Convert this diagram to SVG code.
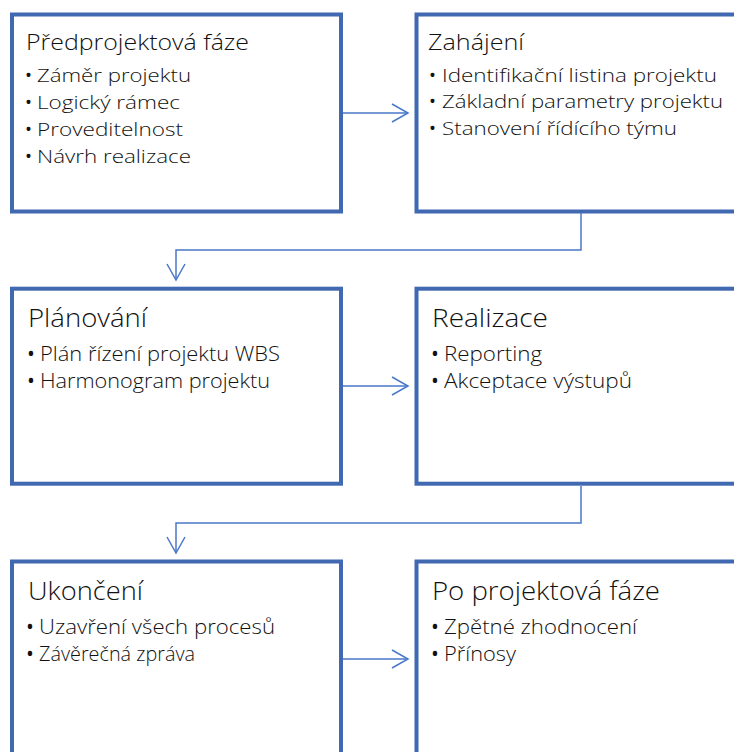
<svg xmlns="http://www.w3.org/2000/svg" width="734" height="752" viewBox="0 0 734 752">
  <style>
    .box { fill: #ffffff; stroke: #4169b1; stroke-width: 4; }
    .link { fill: none; stroke: #4a78c8; stroke-width: 1.5; }
    text { font-family: "Open Sans", "Noto Sans", sans-serif; font-weight: 300; fill: #111111; }
    .t1 { font-size: 22px; }
    .b1 { font-size: 18.5px; }
    .t2 { font-size: 26px; }
    .b2 { font-size: 21px; }
    .dot { font-weight: 400; }
  </style>
  <defs>
    <marker id="chevron" markerUnits="userSpaceOnUse" markerWidth="20" markerHeight="22" refX="17" refY="10" orient="auto">
      <path d="M1,1 L17,10 L1,19" fill="none" stroke="#4a78c8" stroke-width="1.5"/>
    </marker>
  </defs>

  <rect width="734" height="752" fill="#ffffff"/>

  <!-- connectors between phases -->
  <g id="connectors">
    <path class="link" d="M343,113 H408" marker-end="url(#chevron)"/>
    <path class="link" d="M581,213 V250 H176 V280" marker-end="url(#chevron)"/>
    <path class="link" d="M343,386 H408" marker-end="url(#chevron)"/>
    <path class="link" d="M581,486 V523 H176 V553" marker-end="url(#chevron)"/>
    <path class="link" d="M343,659 H408" marker-end="url(#chevron)"/>
  </g>

  <g id="predprojektova">
    <rect class="box" x="12" y="14.5" width="329" height="197"/>
    <text class="t1" x="26" y="50" textLength="223" lengthAdjust="spacingAndGlyphs">Předprojektová fáze</text>
    <g class="b1">
      <text class="dot" x="25" y="82">•</text><text x="37" y="82" textLength="154" lengthAdjust="spacingAndGlyphs">Záměr projektu</text>
      <text class="dot" x="25" y="109">•</text><text x="37" y="109" textLength="143" lengthAdjust="spacingAndGlyphs">Logický rámec</text>
      <text class="dot" x="25" y="136">•</text><text x="37" y="136" textLength="146" lengthAdjust="spacingAndGlyphs">Proveditelnost</text>
      <text class="dot" x="25" y="163">•</text><text x="37" y="163" textLength="154" lengthAdjust="spacingAndGlyphs">Návrh realizace</text>
    </g>
  </g>

  <g id="zahajeni">
    <rect class="box" x="416.5" y="14.5" width="340" height="197"/>
    <text class="t1" x="428" y="50" textLength="96" lengthAdjust="spacingAndGlyphs">Zahájení</text>
    <g class="b1">
      <text class="dot" x="429" y="82">•</text><text x="442" y="82" textLength="275" lengthAdjust="spacingAndGlyphs">Identifikační listina projektu</text>
      <text class="dot" x="429" y="108">•</text><text x="442" y="108" textLength="281" lengthAdjust="spacingAndGlyphs">Základní parametry projektu</text>
      <text class="dot" x="429" y="135">•</text><text x="442" y="135" textLength="235" lengthAdjust="spacingAndGlyphs">Stanovení řídícího týmu</text>
    </g>
  </g>

  <g id="planovani">
    <rect class="box" x="12" y="288.7" width="329" height="195"/>
    <text class="t2" x="28" y="327" textLength="119" lengthAdjust="spacingAndGlyphs">Plánování</text>
    <g class="b2">
      <text class="dot" x="27" y="361">•</text><text x="40" y="361" textLength="240" lengthAdjust="spacingAndGlyphs">Plán řízení projektu WBS</text>
      <text class="dot" x="27" y="388">•</text><text x="40" y="388" textLength="230" lengthAdjust="spacingAndGlyphs">Harmonogram projektu</text>
    </g>
  </g>

  <g id="realizace">
    <rect class="box" x="416.5" y="288.7" width="340" height="195"/>
    <text class="t2" x="432" y="327" textLength="116" lengthAdjust="spacingAndGlyphs">Realizace</text>
    <g class="b2">
      <text class="dot" x="431" y="361">•</text><text x="444" y="361" textLength="98" lengthAdjust="spacingAndGlyphs">Reporting</text>
      <text class="dot" x="431" y="388">•</text><text x="444" y="388" textLength="188" lengthAdjust="spacingAndGlyphs">Akceptace výstupů</text>
    </g>
  </g>

  <g id="ukonceni">
    <rect class="box" x="12" y="561.5" width="329" height="230"/>
    <text class="t2" x="28" y="600" textLength="115" lengthAdjust="spacingAndGlyphs">Ukončení</text>
    <g class="b2">
      <text class="dot" x="26" y="634">•</text><text x="39" y="634" textLength="236" lengthAdjust="spacingAndGlyphs">Uzavření všech procesů</text>
      <text class="dot" x="26" y="661">•</text><text x="39" y="661" textLength="156" lengthAdjust="spacingAndGlyphs">Závěrečná zpráva</text>
    </g>
  </g>

  <g id="poprojektova">
    <rect class="box" x="416.5" y="561.5" width="340" height="230"/>
    <text class="t2" x="432" y="600" textLength="228" lengthAdjust="spacingAndGlyphs">Po projektová fáze</text>
    <g class="b2">
      <text class="dot" x="431" y="634">•</text><text x="444" y="634" textLength="193" lengthAdjust="spacingAndGlyphs">Zpětné zhodnocení</text>
      <text class="dot" x="431" y="661">•</text><text x="444" y="661" textLength="72" lengthAdjust="spacingAndGlyphs">Přínosy</text>
    </g>
  </g>
</svg>
